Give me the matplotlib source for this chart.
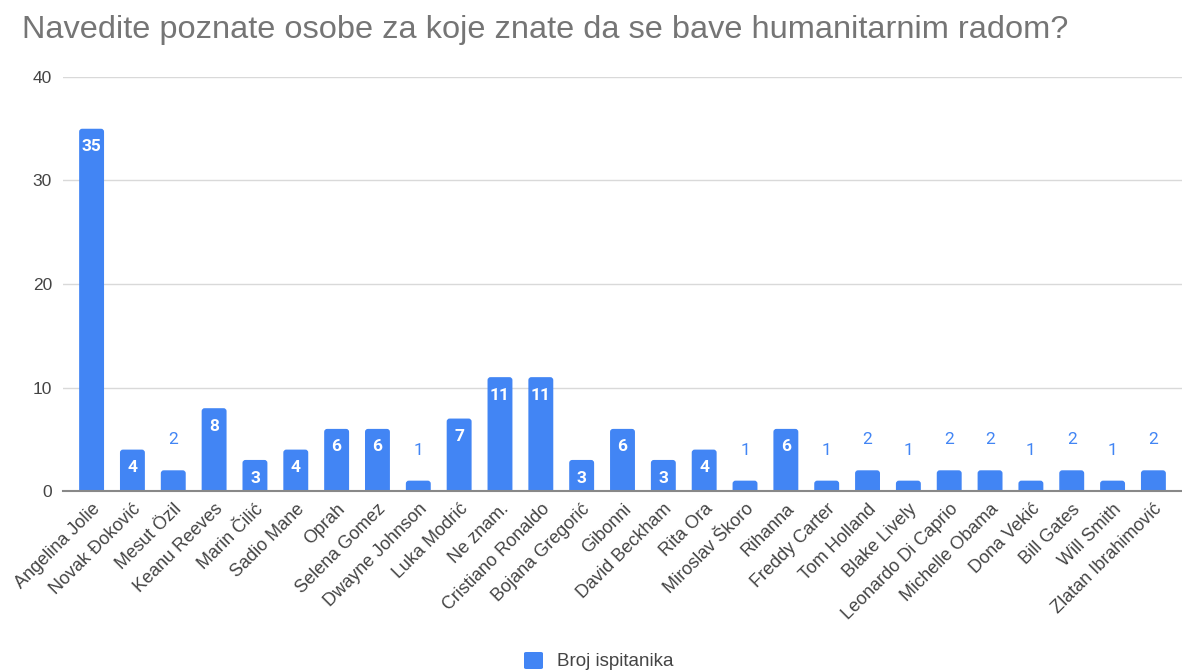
import numpy as np
import matplotlib
matplotlib.use('Agg')
import matplotlib.pyplot as plt
from matplotlib.patches import FancyBboxPatch

names = ["Angelina Jolie", "Novak Đoković", "Mesut Özil", "Keanu Reeves", "Marin Čilić",
         "Sadio Mane", "Oprah", "Selena Gomez", "Dwayne Johnson", "Luka Modrić",
         "Ne znam.", "Cristiano Ronaldo", "Bojana Gregorić", "Gibonni", "David Beckham",
         "Rita Ora", "Miroslav Škoro", "Rihanna", "Freddy Carter", "Tom Holland",
         "Blake Lively", "Leonardo Di Caprio", "Michelle Obama", "Dona Vekić", "Bill Gates",
         "Will Smith", "Zlatan Ibrahimović"]
counts = [35, 4, 2, 8, 3, 4, 6, 6, 1, 7, 11, 11, 3, 6, 3, 4, 1, 6, 1, 2, 1, 2, 2, 1, 2, 1, 2]
yticks = [0, 10, 20, 30, 40]

blue = '#4285F4'
plt.rcParams['font.family'] = ['Liberation Sans', 'DejaVu Sans']

W, H = 1182, 671
fig = plt.figure(figsize=(W / 100, H / 100), dpi=100)
ax = fig.add_axes([63 / W, 1 - 491 / H, 1 - 63 / W, (491 - 77) / H])

x = np.arange(len(names))
xmin, xmax = -0.7, len(names) - 1 + 0.7
ax.set_xlim(xmin, xmax)
ax.set_ylim(0, 40)

# bars with slightly rounded tops
bars = ax.bar(x, counts, width=0.61, color=blue, zorder=3)
px_x = (xmax - xmin) / (W - 63)
px_y = 40 / (491 - 77)
for b in bars:
    b.set_visible(False)
    r = 3 * px_x
    p = FancyBboxPatch((b.get_x(), -1), b.get_width(), b.get_height() + 1,
                       boxstyle='round,pad=0,rounding_size=%f' % r,
                       mutation_aspect=px_y / px_x, facecolor=blue,
                       edgecolor='none', zorder=3)
    ax.add_patch(p)

for xi, v in zip(x, counts):
    if v >= 3:
        ax.annotate(str(v), (xi, v), xytext=(0, -13), textcoords='offset points',
                    ha='center', va='center', color='white', fontsize=12.5,
                    fontweight='bold', family=['Roboto', 'DejaVu Sans'], zorder=4)
    else:
        ax.annotate(str(v), (xi, v), xytext=(0, 22), textcoords='offset points',
                    ha='center', va='center', color=blue, fontsize=12.5,
                    family=['Roboto', 'DejaVu Sans'], zorder=4)

ax.set_yticks(yticks)
ax.set_yticklabels([str(t) for t in yticks], fontsize=12.5, color='#444444')
ax.set_xticks(x)
ax.set_xticklabels(names, rotation=45, ha='right', rotation_mode='anchor',
                   fontsize=13, color='#444444')
ax.tick_params(axis='y', length=0, pad=8)
ax.tick_params(axis='x', length=0, pad=7)
ax.grid(axis='y', color='#d9d9d9', linewidth=1, zorder=0)
for s in ['top', 'right', 'left']:
    ax.spines[s].set_visible(False)
ax.spines['bottom'].set_color('#888888')
ax.spines['bottom'].set_linewidth(1.5)
ax.spines['bottom'].set_zorder(5)

fig.text(22 / W, 1 - 30 / H, "Navedite poznate osobe za koje znate da se bave humanitarnim radom?",
         fontsize=23.4, color='#757575', ha='left', va='center')

fig.patches.append(FancyBboxPatch((524 / W, 1 - 669 / H), 19 / W, 17 / H,
                                  boxstyle='round,pad=0,rounding_size=0.002',
                                  transform=fig.transFigure, facecolor=blue,
                                  edgecolor='none'))
fig.text(557 / W, 1 - 661 / H, "Broj ispitanika", fontsize=13.5, color='#444444',
         ha='left', va='center')

fig.savefig('out.png', dpi=100)
